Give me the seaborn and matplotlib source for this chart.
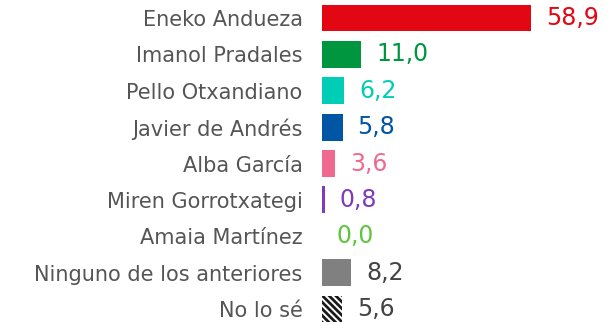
import matplotlib
matplotlib.use("Agg")
import matplotlib.pyplot as plt
import seaborn as sns
import pandas as pd

candidates = ["Eneko Andueza", "Imanol Pradales", "Pello Otxandiano", "Javier de Andrés",
              "Alba García", "Miren Gorrotxategi", "Amaia Martínez",
              "Ninguno de los anteriores", "No lo sé"]
values = [58.9, 11.0, 6.2, 5.8, 3.6, 0.8, 0.0, 8.2, 5.6]
value_labels = ["58,9", "11,0", "6,2", "5,8", "3,6", "0,8", "0,0", "8,2", "5,6"]
colors = ["#E30613", "#009640", "#00CDB6", "#0055A5", "#F0698E", "#7E3CBD",
          "#5DC63C", "#808080", "#FFFFFF"]
text_colors = colors[:-2] + ["#444444", "#444444"]

df = pd.DataFrame({"candidato": candidates, "valor": values})

sns.set_theme(style="white")
plt.rcParams["font.family"] = ["DejaVu Sans"]
plt.rcParams["hatch.linewidth"] = 2.0
plt.rcParams["hatch.color"] = "#1a1a1a"

fig = plt.figure(figsize=(6.16, 3.25), dpi=100)
ax = fig.add_axes([322 / 616, 0, 294 / 616, 1])

sns.barplot(data=df, x="valor", y="candidato", hue="candidato", palette=colors,
            legend=False, width=0.74, ax=ax, saturation=1)

for patch in ax.patches:
    patch.set_linewidth(0)
ax.patches[-1].set_hatch("\\\\\\\\\\")
ax.patches[-1].set_edgecolor("#1a1a1a")

px = 3.55  # pixels per unit on the x axis
ax.set_xlim(0, 294 / px)
ax.set_ylim(8.44, -0.495)

for i, (val, lab, c) in enumerate(zip(values, value_labels, text_colors)):
    ax.text(val + 15 / px, i, lab, color=c, fontsize=17, va="center", ha="left")

ax.set_yticks(range(len(candidates)))
ax.set_yticklabels(candidates, fontsize=15, color="#555555")
ax.tick_params(axis="y", length=0, pad=14)
ax.set_xticks([])
ax.set_xlabel("")
ax.set_ylabel("")
for s in ax.spines.values():
    s.set_visible(False)

fig.savefig("out.png", dpi=100)
